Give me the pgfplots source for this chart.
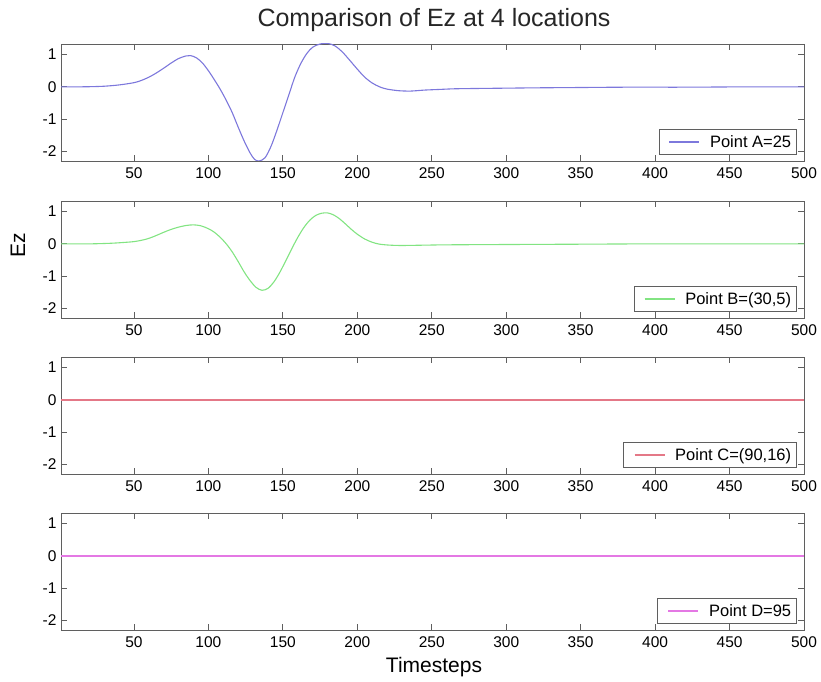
\documentclass[border=0pt]{standalone}
\usepackage{pgfplots}
\pgfplotsset{compat=1.18}
\usepackage{fontspec}
\setmainfont{Liberation Sans}

\definecolor{cA}{RGB}{125,120,220}
\definecolor{cB}{RGB}{130,228,130}
\definecolor{cC}{RGB}{228,120,135}
\definecolor{cD}{RGB}{228,120,228}
\definecolor{frame}{RGB}{95,95,95}

\pgfplotsset{
  panel/.style={
    scale only axis,
    width=743pt, height=117pt,
    anchor=south west,
    xmin=1, xmax=500, ymin=-2.3, ymax=1.33,
    xtick={50,100,...,500},
    ytick={-2,-1,0,1},
    tick align=inside,
    major tick length=6pt,
    axis line style={frame, line width=0.9pt},
    tick style={frame, line width=0.8pt},
    every tick label/.append style={font=\fontsize{15.5}{17}\selectfont},
    /pgf/number format/assume math mode=true,
    xticklabel style={yshift=-3pt},
    yticklabel style={xshift=-1pt},
    legend cell align=left,
    legend style={at={(0.99,0.05)}, anchor=south east,
      draw=frame, line width=0.8pt, inner xsep=3pt, inner ysep=4pt,
      font=\fontsize{16.5}{18}\selectfont},
    legend image code/.code={
      \path (-7pt,0pt) (38pt,0pt);
      \draw[#1, line width=1.2pt] (0pt,0pt) -- (30pt,0pt);},
  },
  trace/.style={line width=1.1pt, smooth, tension=0.5},
}

\begin{document}
\begin{tikzpicture}
\useasboundingbox (0pt,0pt) rectangle (821pt,681pt);

% Point A
\begin{axis}[panel, at={(61pt,520pt)}]
\addplot[cA, trace] coordinates {
(1,0) (10,0) (20,0.005) (30,0.02) (40,0.06) (50,0.13) (55,0.2) (60,0.3)
(65,0.43) (70,0.58) (75,0.74) (80,0.88) (85,0.96) (88,0.97) (92,0.9)
(96,0.74) (100,0.5) (104,0.22) (108,-0.08) (112,-0.42) (116,-0.8)
(120,-1.25) (124,-1.68) (128,-2.05) (131,-2.25) (134,-2.3) (138,-2.2)
(142,-1.85) (146,-1.35) (150,-0.8) (154,-0.25) (158,0.3) (162,0.72)
(166,1.03) (170,1.23) (175,1.33) (180,1.35) (185,1.27) (190,1.08)
(195,0.82) (200,0.55) (205,0.3) (210,0.12) (215,0.0) (220,-0.07)
(228,-0.12) (236,-0.13) (245,-0.1) (255,-0.08) (265,-0.06) (280,-0.05)
(300,-0.04) (320,-0.03) (350,-0.02) (380,-0.01) (420,-0.01) (460,0) (500,0)
};
\addlegendentry{Point A=25}
\end{axis}

% Point B
\begin{axis}[panel, at={(61pt,363pt)}]
\addplot[cB, trace] coordinates {
(1,0) (20,0) (35,0.02) (45,0.05) (50,0.07) (55,0.11) (60,0.17) (65,0.26)
(70,0.36) (75,0.45) (80,0.52) (85,0.57) (90,0.59) (95,0.56) (100,0.47)
(104,0.36) (108,0.2) (112,0.0) (116,-0.25) (120,-0.55) (124,-0.87)
(128,-1.14) (132,-1.35) (136,-1.44) (140,-1.38) (144,-1.18) (148,-0.88)
(152,-0.52) (156,-0.15) (160,0.2) (164,0.5) (168,0.73) (172,0.88)
(176,0.95) (180,0.96) (184,0.9) (188,0.78) (192,0.62) (196,0.45)
(200,0.3) (205,0.15) (210,0.05) (215,-0.01) (222,-0.04) (230,-0.05)
(245,-0.04) (260,-0.03) (300,-0.02) (350,-0.01) (400,0) (500,0)
};
\addlegendentry{Point B=(30,5)}
\end{axis}

% Point C
\begin{axis}[panel, at={(61pt,207pt)}]
\addplot[draw=cC, line width=1.3pt] coordinates {(1,0) (100,0) (200,0) (300,0) (400,0) (500,0)};
\addlegendentry{Point C=(90,16)}
\end{axis}

% Point D
\begin{axis}[panel, at={(61pt,51pt)}]
\addplot[draw=cD, line width=1.3pt] coordinates {(1,0) (100,0) (200,0) (300,0) (400,0) (500,0)};
\addlegendentry{Point D=95}
\end{axis}

\node[font=\fontsize{25}{28}\selectfont, text=black!85] at (434pt,661pt) {Comparison of Ez at 4 locations};
\node[font=\fontsize{21}{24}\selectfont, rotate=90] at (18pt,436pt) {Ez};
\node[font=\fontsize{21}{24}\selectfont] at (434pt,14pt) {Timesteps};
\end{tikzpicture}
\end{document}
